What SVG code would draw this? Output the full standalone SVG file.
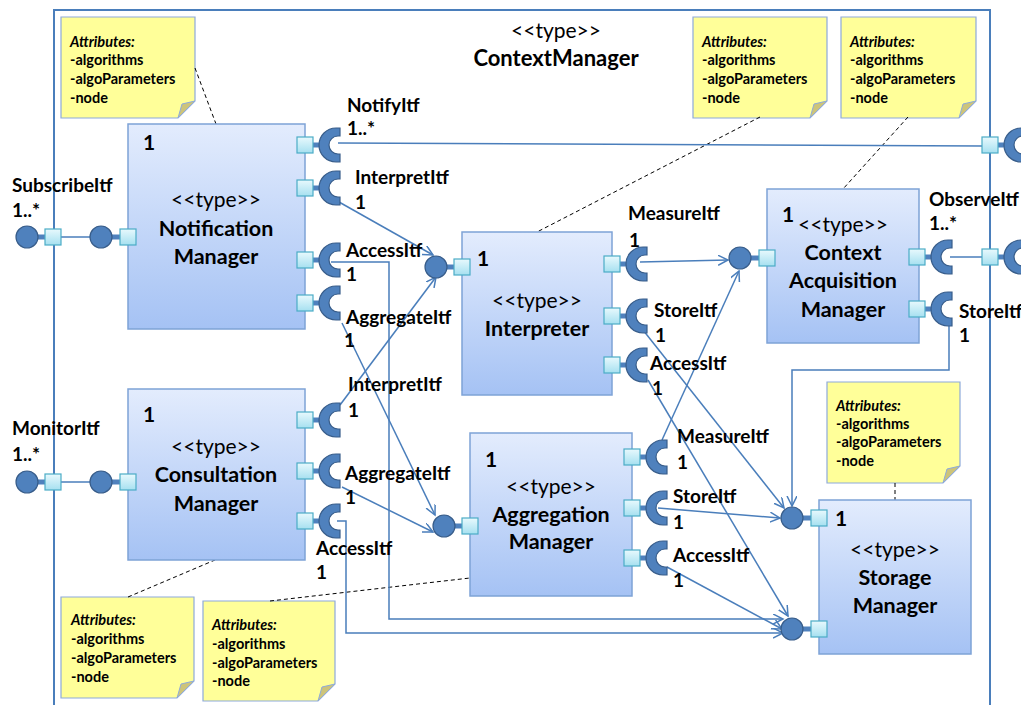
<svg xmlns="http://www.w3.org/2000/svg" width="1021" height="705" viewBox="0 0 1021 705">
<defs>
<linearGradient id="gBox" x1="0" y1="0" x2="0" y2="1"><stop offset="0" stop-color="#e3ecfd"/><stop offset="1" stop-color="#a5c2f4"/></linearGradient>
<linearGradient id="gPort" x1="0" y1="0" x2="0" y2="1"><stop offset="0" stop-color="#e8f9fd"/><stop offset="1" stop-color="#a6e0f0"/></linearGradient>
<marker id="arr" markerUnits="userSpaceOnUse" markerWidth="12" markerHeight="12" refX="10" refY="5" orient="auto"><path d="M0,0 L10,5 L0,10" fill="none" stroke="#4a7ebb" stroke-width="1.5"/></marker>
<path id="sock" d="M4,-17 L0,-17 A17,17 0 0 0 0,17 L4,17 L4,9 L2,9 A9,9 0 0 1 2,-9 L4,-9 Z" fill="#4f81bd" stroke="#385d8a" stroke-width="1.2"/>
<style>
.box{fill:url(#gBox);stroke:#7ea3d6;stroke-width:1.5}
.port{fill:url(#gPort);stroke:#4bacc6;stroke-width:1.2}
.stem{stroke:#4f81bd;stroke-width:5}
.lol{fill:#4f81bd;stroke:#385d8a;stroke-width:1.2}
.con{fill:none;stroke:#4a7ebb;stroke-width:1.5}
.arw{marker-end:url(#arr)}
.dash{fill:none;stroke:#000;stroke-width:1;stroke-dasharray:4,3}
.note{fill:#ffff99;stroke:#8eaadb;stroke-width:1.2}
.fold{fill:#cdc47a;stroke:#8eaadb;stroke-width:1}
.lbl{font-family:Lato,"Open Sans",sans-serif;font-weight:bold;font-size:19px;fill:#000}
.nm{font-family:Lato,"Open Sans",sans-serif;font-weight:bold;font-size:21.5px;fill:#000;text-anchor:middle}
.ty{font-family:Lato,"Open Sans",sans-serif;font-size:21px;fill:#000;text-anchor:middle}
.one{font-family:Lato,"Open Sans",sans-serif;font-weight:bold;font-size:21px;fill:#000}
.nt{font-family:Lato,"Open Sans",sans-serif;font-weight:bold;font-size:14.5px;fill:#000}
.nti{font-style:italic}
</style>
</defs>
<rect width="1021" height="705" fill="#fff"/>
<path d="M54,705 L54,10 L990,10 L990,705" fill="none" stroke="#4a7ebb" stroke-width="2"/>
<g id="title"><text class="ty" x="556" y="38">&lt;&lt;type&gt;&gt;</text><text class="nm" x="556" y="66" style="font-size:22px">ContextManager</text></g>

<g id="notes">
<g id="note1"><path class="note" d="M61,17 H195 V101 L178,118 H61 Z"/><path class="fold" d="M195,101 L178,118 L182,104 Z"/>
<text class="nt" x="70"><tspan class="nti" x="70" y="47">Attributes:</tspan><tspan x="70" y="65">-algorithms</tspan><tspan x="70" y="84">-algoParameters</tspan><tspan x="70" y="103">-node</tspan></text></g>
<g id="note2"><path class="note" d="M693,17 H827 V101 L810,118 H693 Z"/><path class="fold" d="M827,101 L810,118 L814,104 Z"/>
<text class="nt"><tspan class="nti" x="702" y="47">Attributes:</tspan><tspan x="702" y="65">-algorithms</tspan><tspan x="702" y="84">-algoParameters</tspan><tspan x="702" y="103">-node</tspan></text></g>
<g id="note3"><path class="note" d="M841,17 H976 V101 L959,118 H841 Z"/><path class="fold" d="M976,101 L959,118 L963,104 Z"/>
<text class="nt"><tspan class="nti" x="850" y="47">Attributes:</tspan><tspan x="850" y="65">-algorithms</tspan><tspan x="850" y="84">-algoParameters</tspan><tspan x="850" y="103">-node</tspan></text></g>
<g id="note4"><path class="note" d="M61,597 H194 V681 L177,698 H61 Z"/><path class="fold" d="M194,681 L177,698 L181,684 Z"/>
<text class="nt"><tspan class="nti" x="71" y="625">Attributes:</tspan><tspan x="71" y="644">-algorithms</tspan><tspan x="71" y="663">-algoParameters</tspan><tspan x="71" y="682">-node</tspan></text></g>
<g id="note5"><path class="note" d="M203,601 H335 V684 L318,701 H203 Z"/><path class="fold" d="M335,684 L318,701 L322,687 Z"/>
<text class="nt"><tspan class="nti" x="212" y="630">Attributes:</tspan><tspan x="212" y="649">-algorithms</tspan><tspan x="212" y="668">-algoParameters</tspan><tspan x="212" y="686">-node</tspan></text></g>
<g id="note6"><path class="note" d="M827,382 H960 V466 L943,483 H827 Z"/><path class="fold" d="M960,466 L943,483 L947,469 Z"/>
<text class="nt"><tspan class="nti" x="836" y="411">Attributes:</tspan><tspan x="836" y="429">-algorithms</tspan><tspan x="836" y="447">-algoParameters</tspan><tspan x="836" y="466">-node</tspan></text></g>
<path class="dash" d="M195,68 L216,124"/>
<path class="dash" d="M760,117 L537,232"/>
<path class="dash" d="M908,117 L843,189"/>
<path class="dash" d="M128,597 L215,560"/>
<path class="dash" d="M270,601 L470,578"/>
<path class="dash" d="M895,483 L895,500"/>
</g>

<g id="connectors">
<path class="con" d="M338,143 L982,146"/>
<path class="con" d="M950,257 L982,257"/>
<path class="con" stroke-width="3" d="M53,237 L101,237"/>
<path class="con" stroke-width="3" d="M53,482 L101,482"/>
<path class="con arw" d="M339,202 L433,255"/>
<path class="con arw" d="M340,405 L436,277"/>
<path class="con arw" d="M342,323 L435,515"/>
<path class="con arw" d="M342,487 L433,532"/>
<path class="con arw" d="M331,262 L389,262 L389,619 L783,619"/>
<path class="con arw" d="M337,521 L346,521 L346,633 L783,633"/>
<path class="con arw" d="M640,262 L728,260"/>
<path class="con arw" d="M643,330 L784,508"/>
<path class="con arw" d="M648,380 L788,616"/>
<path class="con arw" d="M662,440 L739,271"/>
<path class="con arw" d="M658,508 L780,518"/>
<path class="con arw" d="M667,567 L782,629"/>
<path class="con arw" d="M949,320 L949,370 L792,370 L792,506"/>
</g>

<g id="frame-ports">
<line class="stem" x1="27" y1="237" x2="45" y2="237"/><circle class="lol" cx="27" cy="237" r="11"/><rect class="port" x="45" y="229" width="16" height="16"/>
<line class="stem" x1="27" y1="482" x2="45" y2="482"/><circle class="lol" cx="27" cy="482" r="11"/><rect class="port" x="45" y="474" width="16" height="16"/>
<line class="stem" x1="998" y1="145" x2="1006" y2="145"/><use href="#sock" x="1021" y="145"/><rect class="port" x="982" y="137" width="16" height="16"/>
<line class="stem" x1="998" y1="257" x2="1006" y2="257"/><use href="#sock" x="1021" y="257"/><rect class="port" x="982" y="249" width="16" height="16"/>
<text class="lbl"><tspan x="12" y="192">SubscribeItf</tspan><tspan x="12" y="217">1..*</tspan></text>
<text class="lbl"><tspan x="12" y="435">MonitorItf</tspan><tspan x="12" y="461">1..*</tspan></text>
</g>

<g id="notification-manager">
<rect class="box" x="128" y="124" width="177" height="205"/>
<text class="one" x="143" y="150">1</text>
<text class="ty" x="216" y="207">&lt;&lt;type&gt;&gt;</text>
<text class="nm" x="216" y="236">Notification</text>
<text class="nm" x="216" y="264">Manager</text>
<line class="stem" x1="101" y1="237" x2="120" y2="237"/><circle class="lol" cx="101" cy="237" r="11"/><rect class="port" x="120" y="229" width="16" height="16"/>
<line class="stem" x1="313" y1="145" x2="321" y2="145"/><use href="#sock" x="336" y="145"/><rect class="port" x="297" y="137" width="16" height="16"/>
<line class="stem" x1="313" y1="188" x2="321" y2="188"/><use href="#sock" x="336" y="188"/><rect class="port" x="297" y="180" width="16" height="16"/>
<line class="stem" x1="313" y1="260" x2="321" y2="260"/><use href="#sock" x="336" y="260"/><rect class="port" x="297" y="252" width="16" height="16"/>
<line class="stem" x1="313" y1="303" x2="321" y2="303"/><use href="#sock" x="336" y="303"/><rect class="port" x="297" y="295" width="16" height="16"/>
<text class="lbl"><tspan x="347" y="112">NotifyItf</tspan><tspan x="347" y="135">1..*</tspan></text>
<text class="lbl"><tspan x="355" y="184">InterpretItf</tspan><tspan x="355" y="209">1</tspan></text>
<text class="lbl"><tspan x="346" y="257">AccessItf</tspan><tspan x="346" y="281">1</tspan></text>
<text class="lbl"><tspan x="346" y="324">AggregateItf</tspan><tspan x="344" y="347">1</tspan></text>
</g>

<g id="consultation-manager">
<rect class="box" x="128" y="389" width="177" height="171"/>
<text class="one" x="143" y="422">1</text>
<text class="ty" x="216" y="454">&lt;&lt;type&gt;&gt;</text>
<text class="nm" x="216" y="482">Consultation</text>
<text class="nm" x="216" y="511">Manager</text>
<line class="stem" x1="101" y1="482" x2="120" y2="482"/><circle class="lol" cx="101" cy="482" r="11"/><rect class="port" x="120" y="474" width="16" height="16"/>
<line class="stem" x1="313" y1="420" x2="321" y2="420"/><use href="#sock" x="336" y="420"/><rect class="port" x="297" y="412" width="16" height="16"/>
<line class="stem" x1="313" y1="471" x2="321" y2="471"/><use href="#sock" x="336" y="471"/><rect class="port" x="297" y="463" width="16" height="16"/>
<line class="stem" x1="313" y1="521" x2="321" y2="521"/><use href="#sock" x="336" y="521"/><rect class="port" x="297" y="513" width="16" height="16"/>
<text class="lbl"><tspan x="348" y="391">InterpretItf</tspan><tspan x="348" y="417">1</tspan></text>
<text class="lbl"><tspan x="345" y="480">AggregateItf</tspan><tspan x="345" y="504">1</tspan></text>
<text class="lbl"><tspan x="316" y="555">AccessItf</tspan><tspan x="316" y="579">1</tspan></text>
</g>

<g id="interpreter">
<rect class="box" x="462" y="232" width="150" height="163"/>
<text class="one" x="477" y="266">1</text>
<text class="ty" x="537" y="308">&lt;&lt;type&gt;&gt;</text>
<text class="nm" x="537" y="336">Interpreter</text>
<line class="stem" x1="436" y1="267" x2="454" y2="267"/><circle class="lol" cx="436" cy="267" r="11"/><rect class="port" x="454" y="259" width="16" height="16"/>
<line class="stem" x1="620" y1="264" x2="628" y2="264"/><use href="#sock" x="643" y="264"/><rect class="port" x="604" y="256" width="16" height="16"/>
<line class="stem" x1="620" y1="316" x2="628" y2="316"/><use href="#sock" x="643" y="316"/><rect class="port" x="604" y="308" width="16" height="16"/>
<line class="stem" x1="620" y1="365" x2="628" y2="365"/><use href="#sock" x="643" y="365"/><rect class="port" x="604" y="357" width="16" height="16"/>
<text class="lbl"><tspan x="628" y="220">MeasureItf</tspan><tspan x="629" y="247">1</tspan></text>
<text class="lbl"><tspan x="654" y="317">StoreItf</tspan><tspan x="655" y="342">1</tspan></text>
<text class="lbl"><tspan x="650" y="370">AccessItf</tspan><tspan x="652" y="395">1</tspan></text>
</g>

<g id="context-acquisition-manager">
<rect class="box" x="767" y="189" width="152" height="154"/>
<text class="one" x="782" y="222">1</text>
<text class="ty" x="843" y="232">&lt;&lt;type&gt;&gt;</text>
<text class="nm" x="843" y="260">Context</text>
<text class="nm" x="843" y="288">Acquisition</text>
<text class="nm" x="843" y="317">Manager</text>
<line class="stem" x1="740" y1="258" x2="759" y2="258"/><circle class="lol" cx="740" cy="258" r="11"/><rect class="port" x="759" y="250" width="16" height="16"/>
<line class="stem" x1="925" y1="257" x2="933" y2="257"/><use href="#sock" x="948" y="257"/><rect class="port" x="909" y="249" width="16" height="16"/>
<line class="stem" x1="925" y1="309" x2="933" y2="309"/><use href="#sock" x="948" y="309"/><rect class="port" x="909" y="301" width="16" height="16"/>
<text class="lbl"><tspan x="929" y="206">ObserveItf</tspan><tspan x="929" y="230">1..*</tspan></text>
<text class="lbl"><tspan x="959" y="318">StoreItf</tspan><tspan x="959" y="342">1</tspan></text>
</g>

<g id="aggregation-manager">
<rect class="box" x="470" y="433" width="162" height="163"/>
<text class="one" x="485" y="467">1</text>
<text class="ty" x="551" y="494">&lt;&lt;type&gt;&gt;</text>
<text class="nm" x="551" y="522">Aggregation</text>
<text class="nm" x="551" y="549">Manager</text>
<line class="stem" x1="444" y1="526" x2="462" y2="526"/><circle class="lol" cx="444" cy="526" r="11"/><rect class="port" x="462" y="518" width="16" height="16"/>
<line class="stem" x1="640" y1="457" x2="648" y2="457"/><use href="#sock" x="663" y="457"/><rect class="port" x="624" y="449" width="16" height="16"/>
<line class="stem" x1="640" y1="508" x2="648" y2="508"/><use href="#sock" x="663" y="508"/><rect class="port" x="624" y="500" width="16" height="16"/>
<line class="stem" x1="640" y1="558" x2="648" y2="558"/><use href="#sock" x="663" y="558"/><rect class="port" x="624" y="550" width="16" height="16"/>
<text class="lbl"><tspan x="677" y="443">MeasureItf</tspan><tspan x="677" y="469">1</tspan></text>
<text class="lbl"><tspan x="673" y="503">StoreItf</tspan><tspan x="673" y="529">1</tspan></text>
<text class="lbl"><tspan x="673" y="562">AccessItf</tspan><tspan x="673" y="587">1</tspan></text>
</g>

<g id="storage-manager">
<rect class="box" x="819" y="500" width="152" height="154"/>
<text class="one" x="835" y="526">1</text>
<text class="ty" x="895" y="557">&lt;&lt;type&gt;&gt;</text>
<text class="nm" x="895" y="585">Storage</text>
<text class="nm" x="895" y="613">Manager</text>
<line class="stem" x1="792" y1="518" x2="811" y2="518"/><circle class="lol" cx="792" cy="518" r="11"/><rect class="port" x="811" y="510" width="16" height="16"/>
<line class="stem" x1="792" y1="629" x2="811" y2="629"/><circle class="lol" cx="792" cy="629" r="11"/><rect class="port" x="811" y="621" width="16" height="16"/>
</g>
</svg>
